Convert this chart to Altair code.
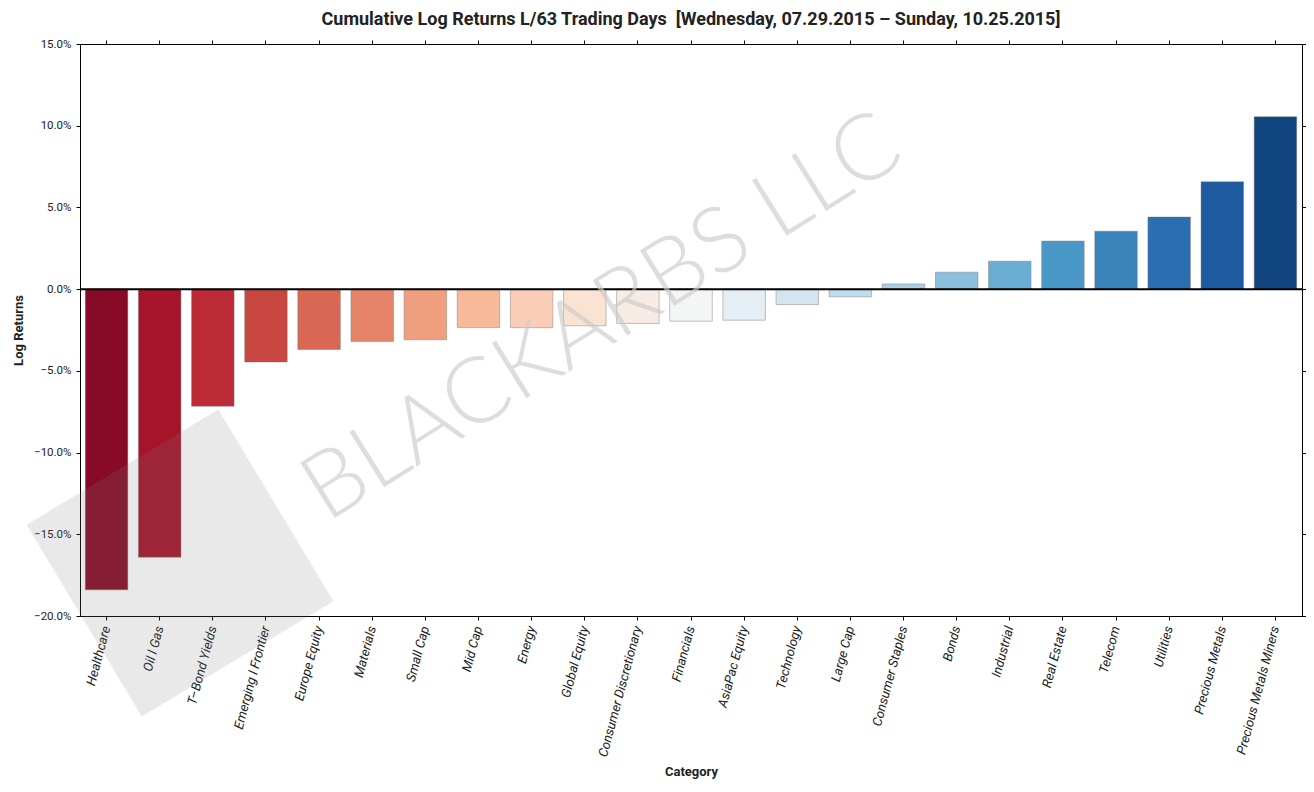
import altair as alt
import pandas as pd

categories = ["Healthcare", "Oil l Gas", "T–Bond Yields", "Emerging l Frontier", "Europe Equity",
              "Materials", "Small Cap", "Mid Cap", "Energy", "Global Equity",
              "Consumer Discretionary", "Financials", "AsiaPac Equity", "Technology", "Large Cap",
              "Consumer Staples", "Bonds", "Industrial", "Real Estate", "Telecom", "Utilities",
              "Precious Metals", "Precious Metals Miners"]
log_returns = [-0.184, -0.164, -0.0716, -0.0446, -0.0369, -0.032, -0.031, -0.0235, -0.0236, -0.0224,
               -0.021, -0.0196, -0.019, -0.0095, -0.0047,
               0.0032, 0.0104, 0.0171, 0.0294, 0.0355, 0.0441, 0.0657, 0.1055]
colors = ["#870a26", "#a51429", "#bb2a35", "#c94741", "#da6753", "#e6846a", "#f09f7e", "#f6b999",
          "#facdb8", "#fbe3d4", "#f7ebe5", "#f4f5f5", "#e5eef4", "#d3e6ef", "#c1dceb", "#a8cfe3",
          "#8bc0dd", "#6aaed3", "#4a98c8", "#3a84bc", "#2a6fb1", "#1d5a9f", "#114580"]
y_ticks = [-0.2, -0.15, -0.1, -0.05, 0, 0.05, 0.1, 0.15]

df = pd.DataFrame({"Category": categories, "Log Returns": log_returns})

W, H = 1222, 572
FONT = "Roboto"

x_enc = alt.X("Category:N", sort=categories,
              scale=alt.Scale(paddingInner=0.2, paddingOuter=0.1),
              axis=alt.Axis(title="Category", labelAngle=285, labelFontStyle="italic",
                            labelFont=FONT, labelFontSize=13, labelColor="#222",
                            titleFont=FONT, titleFontSize=13, titleFontWeight="bold", titleColor="#222",
                            titlePadding=7, labelPadding=6,
                            tickColor="black", tickSize=4, domainColor="black"))
y_scale = alt.Scale(domain=[-0.20, 0.15], nice=False)
y_enc = alt.Y("Log Returns:Q", scale=y_scale,
              axis=alt.Axis(title="Log Returns", format=".1%", values=y_ticks,
                            labelFont=FONT, labelFontSize=11.5, labelColor="#222", labelPadding=5,
                            titleFont=FONT, titleFontSize=13, titleFontWeight="bold", titleColor="#222",
                            titlePadding=8, grid=False,
                            tickColor="black", tickSize=4, domainColor="black"))

base = alt.Chart(df)
one = base.transform_filter(alt.datum.Category == "Healthcare")

bars = base.mark_bar(stroke="#777", strokeWidth=1, strokeOpacity=0.45).encode(
    x=x_enc,
    y=y_enc,
    color=alt.Color("Category:N", scale=alt.Scale(domain=categories, range=colors), legend=None),
)

zero = one.mark_rule(color="black", strokeWidth=2).encode(
    y=alt.YDatum(0, type="quantitative", axis=None, scale=y_scale)
)

watermark_box = one.mark_point(
    shape="square", filled=True, size=50000, angle=59, color="#7a7a7a", opacity=0.17
).encode(x=alt.value(100), y=alt.value(519))

watermark_text = one.mark_text(
    text="BLACKARBS LLC", font="Lato", fontWeight=300, fontSize=92, color="#cccccc",
    opacity=0.65, angle=328, align="center", baseline="middle"
).encode(x=alt.value(522), y=alt.value(274))

frame = base.mark_tick(opacity=0).encode(
    x=alt.X("Category:N", sort=categories,
            axis=alt.Axis(orient="top", labels=False, title=None, tickColor="black", tickSize=4,
                          domainColor="black")),
    y=alt.Y("Log Returns:Q", scale=y_scale,
            axis=alt.Axis(orient="right", labels=False, title=None, grid=False, values=y_ticks,
                          tickColor="black", tickSize=4, domainColor="black")),
)

chart = alt.layer(bars, zero, watermark_box, watermark_text, frame).resolve_axis(
    x="independent", y="independent"
).properties(
    width=W, height=H,
    title=alt.TitleParams("Cumulative Log Returns L/63 Trading Days\u00a0 [Wednesday, 07.29.2015 – Sunday, 10.25.2015]",
                          font=FONT, fontSize=18, fontWeight="bold", color="#222", offset=9, anchor="middle"),
    autosize=alt.AutoSizeParams(type="none"),
    padding={"left": 72, "top": 36, "right": 4, "bottom": 168},
).configure_view(stroke="black", strokeWidth=1)

chart.save("out.html", embed_options={"renderer": "svg", "actions": False})
